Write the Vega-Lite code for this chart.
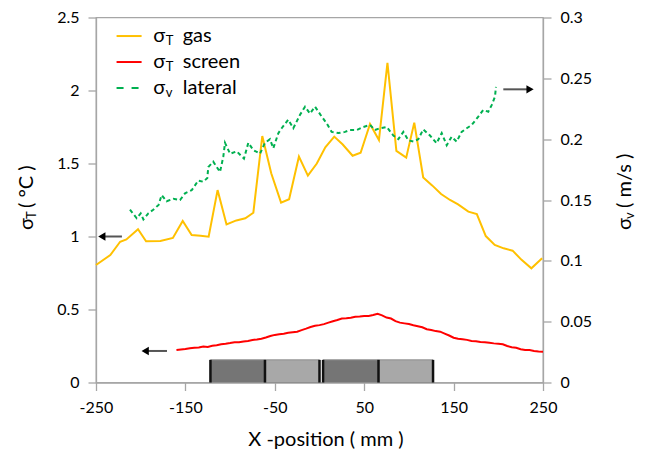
{
  "$schema": "https://vega.github.io/schema/vega-lite/v6.json",
  "width": 447,
  "height": 365,
  "autosize": "none",
  "padding": {"left": 96, "top": 17.5, "right": 103, "bottom": 72.5},
  "background": "white",
  "config": {
    "font": "Lato",
    "view": {"stroke": "#a6a6a6", "strokeWidth": 1.3},
    "axis": {
      "domainColor": "#a6a6a6", "domainWidth": 1.3,
      "tickColor": "#a6a6a6", "tickWidth": 1.3, "tickSize": 8,
      "labelFont": "Lato", "labelFontSize": 16, "labelColor": "#000000", "labelPadding": 9,
      "labelFlush": false,
      "grid": false,
      "titleFont": "Lato", "titleFontSize": 20, "titleColor": "#000000", "titleFontWeight": "normal"
    }
  },
  "datasets": {
    "gas": [
      {"x": -250, "y": 0.805}, {"x": -234, "y": 0.873}, {"x": -223, "y": 0.964}, {"x": -216, "y": 0.98},
      {"x": -203, "y": 1.05}, {"x": -194, "y": 0.967}, {"x": -178, "y": 0.969}, {"x": -164, "y": 0.99},
      {"x": -153, "y": 1.106}, {"x": -143, "y": 1.01}, {"x": -133, "y": 1.005}, {"x": -124, "y": 0.999},
      {"x": -114, "y": 1.318}, {"x": -104, "y": 1.083}, {"x": -93, "y": 1.11}, {"x": -83, "y": 1.125},
      {"x": -74, "y": 1.163}, {"x": -64, "y": 1.688}, {"x": -54, "y": 1.433}, {"x": -43, "y": 1.232},
      {"x": -34, "y": 1.255}, {"x": -23, "y": 1.547}, {"x": -13, "y": 1.417}, {"x": -3, "y": 1.5},
      {"x": 6.5, "y": 1.611}, {"x": 16.5, "y": 1.684}, {"x": 26, "y": 1.63}, {"x": 37, "y": 1.553},
      {"x": 46, "y": 1.574}, {"x": 56.5, "y": 1.771}, {"x": 66.5, "y": 1.661}, {"x": 76, "y": 2.19},
      {"x": 86, "y": 1.586}, {"x": 97, "y": 1.54}, {"x": 106, "y": 1.78}, {"x": 116, "y": 1.405},
      {"x": 126, "y": 1.35}, {"x": 136, "y": 1.291}, {"x": 146, "y": 1.25}, {"x": 155, "y": 1.22},
      {"x": 166.5, "y": 1.17}, {"x": 176, "y": 1.154}, {"x": 186, "y": 1.003}, {"x": 196, "y": 0.942},
      {"x": 206, "y": 0.919}, {"x": 216, "y": 0.903}, {"x": 226, "y": 0.84}, {"x": 237, "y": 0.782},
      {"x": 249, "y": 0.851}
    ],
    "screen": [
      {"x": -160, "y": 0.222}, {"x": -155, "y": 0.226}, {"x": -150, "y": 0.229}, {"x": -145, "y": 0.235},
      {"x": -140, "y": 0.238}, {"x": -135, "y": 0.24}, {"x": -130, "y": 0.246}, {"x": -125, "y": 0.244},
      {"x": -120, "y": 0.252}, {"x": -115, "y": 0.255}, {"x": -110, "y": 0.262}, {"x": -105, "y": 0.265},
      {"x": -100, "y": 0.27}, {"x": -95, "y": 0.276}, {"x": -90, "y": 0.275}, {"x": -85, "y": 0.281},
      {"x": -80, "y": 0.285}, {"x": -75, "y": 0.291}, {"x": -70, "y": 0.295}, {"x": -65, "y": 0.3},
      {"x": -60, "y": 0.308}, {"x": -55, "y": 0.318}, {"x": -50, "y": 0.326}, {"x": -45, "y": 0.33},
      {"x": -40, "y": 0.334}, {"x": -35, "y": 0.34}, {"x": -30, "y": 0.344}, {"x": -25, "y": 0.348},
      {"x": -20, "y": 0.359}, {"x": -15, "y": 0.369}, {"x": -10, "y": 0.38}, {"x": -5, "y": 0.388},
      {"x": 0, "y": 0.393}, {"x": 5, "y": 0.4}, {"x": 10, "y": 0.41}, {"x": 15, "y": 0.42},
      {"x": 20, "y": 0.428}, {"x": 25, "y": 0.438}, {"x": 30, "y": 0.44}, {"x": 35, "y": 0.443},
      {"x": 40, "y": 0.45}, {"x": 45, "y": 0.452}, {"x": 50, "y": 0.455}, {"x": 55, "y": 0.456},
      {"x": 60, "y": 0.462}, {"x": 65, "y": 0.47}, {"x": 70, "y": 0.46}, {"x": 75, "y": 0.445},
      {"x": 80, "y": 0.438}, {"x": 85, "y": 0.42}, {"x": 90, "y": 0.41}, {"x": 95, "y": 0.405},
      {"x": 100, "y": 0.4}, {"x": 105, "y": 0.392}, {"x": 110, "y": 0.385}, {"x": 115, "y": 0.378},
      {"x": 120, "y": 0.365}, {"x": 125, "y": 0.36}, {"x": 130, "y": 0.352}, {"x": 135, "y": 0.348},
      {"x": 140, "y": 0.335}, {"x": 145, "y": 0.322}, {"x": 150, "y": 0.307}, {"x": 155, "y": 0.3},
      {"x": 160, "y": 0.296}, {"x": 165, "y": 0.292}, {"x": 170, "y": 0.285}, {"x": 175, "y": 0.283},
      {"x": 180, "y": 0.277}, {"x": 185, "y": 0.276}, {"x": 190, "y": 0.272}, {"x": 195, "y": 0.268},
      {"x": 200, "y": 0.265}, {"x": 205, "y": 0.262}, {"x": 210, "y": 0.25}, {"x": 215, "y": 0.242},
      {"x": 220, "y": 0.238}, {"x": 225, "y": 0.228}, {"x": 230, "y": 0.222}, {"x": 235, "y": 0.222},
      {"x": 240, "y": 0.216}, {"x": 245, "y": 0.212}, {"x": 250, "y": 0.211}
    ],
    "lateral": [
      {"x": -212, "y": 0.142}, {"x": -204.5, "y": 0.135}, {"x": -200, "y": 0.139}, {"x": -197, "y": 0.134},
      {"x": -191.5, "y": 0.139}, {"x": -186, "y": 0.142}, {"x": -180, "y": 0.146}, {"x": -176.6, "y": 0.154},
      {"x": -171, "y": 0.149}, {"x": -163.5, "y": 0.151}, {"x": -156, "y": 0.15}, {"x": -150.4, "y": 0.1555},
      {"x": -143, "y": 0.158}, {"x": -135.6, "y": 0.166}, {"x": -130, "y": 0.165}, {"x": -125.5, "y": 0.168},
      {"x": -124.4, "y": 0.177}, {"x": -118.8, "y": 0.1815}, {"x": -111.3, "y": 0.173}, {"x": -107.6, "y": 0.1856},
      {"x": -105.7, "y": 0.197}, {"x": -100, "y": 0.188}, {"x": -92.6, "y": 0.19}, {"x": -84.5, "y": 0.184},
      {"x": -79.6, "y": 0.197}, {"x": -74, "y": 0.191}, {"x": -66.6, "y": 0.188}, {"x": -61, "y": 0.197},
      {"x": -55.4, "y": 0.2}, {"x": -51.7, "y": 0.1925}, {"x": -46, "y": 0.205}, {"x": -42.3, "y": 0.209},
      {"x": -35, "y": 0.216}, {"x": -29.3, "y": 0.209}, {"x": -21.8, "y": 0.22}, {"x": -16.2, "y": 0.2267},
      {"x": -10.6, "y": 0.221}, {"x": -5, "y": 0.2267}, {"x": 2.5, "y": 0.2185}, {"x": 8, "y": 0.213},
      {"x": 13.6, "y": 0.206}, {"x": 21, "y": 0.205}, {"x": 28.5, "y": 0.206}, {"x": 34.1, "y": 0.2075},
      {"x": 41.6, "y": 0.2075}, {"x": 49, "y": 0.21}, {"x": 56.5, "y": 0.2117}, {"x": 62, "y": 0.2075},
      {"x": 67.7, "y": 0.209}, {"x": 75.2, "y": 0.21}, {"x": 82.6, "y": 0.203}, {"x": 88.2, "y": 0.2},
      {"x": 93.8, "y": 0.206}, {"x": 99.4, "y": 0.199}, {"x": 105, "y": 0.198}, {"x": 110.5, "y": 0.2},
      {"x": 116, "y": 0.208}, {"x": 123.6, "y": 0.203}, {"x": 131, "y": 0.1966}, {"x": 136.7, "y": 0.205},
      {"x": 142.3, "y": 0.195}, {"x": 147.8, "y": 0.202}, {"x": 153.4, "y": 0.198}, {"x": 159, "y": 0.206},
      {"x": 164.7, "y": 0.209}, {"x": 170.3, "y": 0.2117}, {"x": 177.6, "y": 0.2185}, {"x": 183.2, "y": 0.224},
      {"x": 188.8, "y": 0.2226}, {"x": 192.6, "y": 0.228}, {"x": 196.3, "y": 0.235}, {"x": 197.4, "y": 0.243}
    ],
    "boxes": [
      {"x": -122, "x2": -61, "y": 0, "y2": 0.155, "shade": "dark"},
      {"x": -61, "x2": 0, "y": 0, "y2": 0.155, "shade": "light"},
      {"x": 4, "x2": 66, "y": 0, "y2": 0.155, "shade": "dark"},
      {"x": 66, "x2": 127, "y": 0, "y2": 0.155, "shade": "light"}
    ],
    "dividers": [
      {"x": -122, "y": 0, "y2": 0.155}, {"x": -61, "y": 0, "y2": 0.155}, {"x": 0, "y": 0, "y2": 0.155},
      {"x": 4, "y": 0, "y2": 0.155}, {"x": 66, "y": 0, "y2": 0.155}, {"x": 127, "y": 0, "y2": 0.155}
    ],
    "arrowShafts": [
      {"x": -243, "x2": -221, "y": 1.0},
      {"x": -194.5, "x2": -170.6, "y": 0.216},
      {"x": 205.6, "x2": 235.5, "y": 2.008}
    ],
    "headsLeft": [{"x": -243.5, "y": 1.0}, {"x": -195, "y": 0.216}],
    "headsRight": [{"x": 235.5, "y": 2.008}],
    "legendSolid": [
      {"x": -227, "x2": -199, "y": 2.373, "s": "gas"},
      {"x": -227, "x2": -199, "y": 2.195, "s": "screen"}
    ],
    "legendDashed": [{"x": -227, "x2": -199, "y": 2.017}],
    "legendSigma": [{"x": -186, "y": 2.373, "t": "σ"}, {"x": -186, "y": 2.195, "t": "σ"}, {"x": -186, "y": 2.017, "t": "σ"}],
    "legendSub": [{"x": -172, "y": 2.373, "t": "T"}, {"x": -172, "y": 2.195, "t": "T"}, {"x": -172, "y": 2.017, "t": "v"}],
    "legendLabel": [{"x": -153, "y": 2.373, "t": "gas"}, {"x": -153, "y": 2.195, "t": "screen"}, {"x": -153, "y": 2.017, "t": "lateral"}],
    "titleSigma": [{"x": -327, "y": 1.045, "t": "σ"}, {"x": 341.5, "y": 1.045, "t": "σ"}],
    "titleSub": [{"x": -327, "y": 1.045, "t": "T"}, {"x": 341.5, "y": 1.045, "t": "v"}],
    "titleRest": [{"x": -327, "y": 1.045, "t": "( °C )"}, {"x": 341.5, "y": 1.045, "t": "( m/s )"}]
  },
  "encoding": {
    "x": {
      "field": "x", "type": "quantitative",
      "scale": {"domain": [-250, 250], "nice": false, "zero": false},
      "axis": {"values": [-250, -150, -50, 50, 150, 250], "format": "d", "labelExpr": "replace(datum.label, '\u2212', '-')", "labelFlush": false, "title": "X -position ( mm )", "titlePadding": 14, "titleX": 229.5}
    }
  },
  "layer": [
    {
      "encoding": {
        "y": {
          "field": "y", "type": "quantitative",
          "scale": {"domain": [0, 2.5], "nice": false, "zero": false},
          "axis": {"values": [0, 0.5, 1, 1.5, 2, 2.5], "format": "~g", "title": null}
        }
      },
      "layer": [
        {
          "data": {"name": "boxes"},
          "mark": {"type": "rect", "stroke": "#8f8f8f", "strokeWidth": 1},
          "encoding": {
            "x2": {"field": "x2"}, "y2": {"field": "y2"},
            "fill": {"field": "shade", "type": "nominal", "scale": {"domain": ["dark", "light"], "range": ["#757575", "#a8a8a8"]}, "legend": null}
          }
        },
        {
          "data": {"name": "dividers"},
          "mark": {"type": "rule", "color": "#111111", "strokeWidth": 2.5},
          "encoding": {"y2": {"field": "y2"}}
        },
        {
          "data": {"name": "gas"},
          "mark": {"type": "line", "color": "#FFC000", "strokeWidth": 2}
        },
        {
          "data": {"name": "screen"},
          "mark": {"type": "line", "color": "#FF0000", "strokeWidth": 2}
        },
        {
          "data": {"name": "arrowShafts"},
          "mark": {"type": "rule", "color": "#555555", "strokeWidth": 2},
          "encoding": {"x2": {"field": "x2"}}
        },
        {
          "data": {"name": "headsLeft"},
          "mark": {"type": "point", "shape": "triangle-left", "filled": true, "color": "#000000", "size": 70, "opacity": 1}
        },
        {
          "data": {"name": "headsRight"},
          "mark": {"type": "point", "shape": "triangle-right", "filled": true, "color": "#000000", "size": 70, "opacity": 1}
        },
        {
          "data": {"name": "legendSolid"},
          "mark": {"type": "rule", "strokeWidth": 2},
          "encoding": {
            "x2": {"field": "x2"},
            "stroke": {"field": "s", "type": "nominal", "scale": {"domain": ["gas", "screen"], "range": ["#FFC000", "#FF0000"]}, "legend": null}
          }
        },
        {
          "data": {"name": "legendDashed"},
          "mark": {"type": "rule", "strokeWidth": 2, "color": "#00B050", "strokeDash": [7, 8]},
          "encoding": {"x2": {"field": "x2"}}
        },
        {
          "data": {"name": "legendSigma"},
          "mark": {"type": "text", "align": "left", "baseline": "middle", "fontSize": 20, "font": "Lato", "color": "#000000"},
          "encoding": {"text": {"field": "t"}}
        },
        {
          "data": {"name": "legendSub"},
          "mark": {"type": "text", "align": "left", "baseline": "middle", "fontSize": 13, "dy": 5, "font": "Lato", "color": "#000000"},
          "encoding": {"text": {"field": "t"}}
        },
        {
          "data": {"name": "legendLabel"},
          "mark": {"type": "text", "align": "left", "baseline": "middle", "fontSize": 20, "font": "Lato", "color": "#000000"},
          "encoding": {"text": {"field": "t"}}
        },
        {
          "data": {"name": "titleSigma"},
          "mark": {"type": "text", "align": "left", "baseline": "middle", "angle": 270, "fontSize": 20, "font": "Lato", "color": "#000000"},
          "encoding": {"text": {"field": "t"}}
        },
        {
          "data": {"name": "titleSub"},
          "mark": {"type": "text", "align": "left", "baseline": "middle", "angle": 270, "fontSize": 13, "dx": 11, "dy": 5, "font": "Lato", "color": "#000000"},
          "encoding": {"text": {"field": "t"}}
        },
        {
          "data": {"name": "titleRest"},
          "mark": {"type": "text", "align": "left", "baseline": "middle", "angle": 270, "fontSize": 20, "dx": 22, "font": "Lato", "color": "#000000"},
          "encoding": {"text": {"field": "t"}}
        }
      ]
    },
    {
      "data": {"name": "lateral"},
      "mark": {"type": "line", "color": "#00B050", "strokeWidth": 2, "strokeDash": [4, 3]},
      "encoding": {
        "y": {
          "field": "y", "type": "quantitative",
          "scale": {"domain": [0, 0.3], "nice": false, "zero": false},
          "axis": {"orient": "right", "values": [0, 0.05, 0.1, 0.15, 0.2, 0.25, 0.3], "format": "~g", "title": null}
        }
      }
    }
  ],
  "resolve": {"scale": {"y": "independent"}}
}
